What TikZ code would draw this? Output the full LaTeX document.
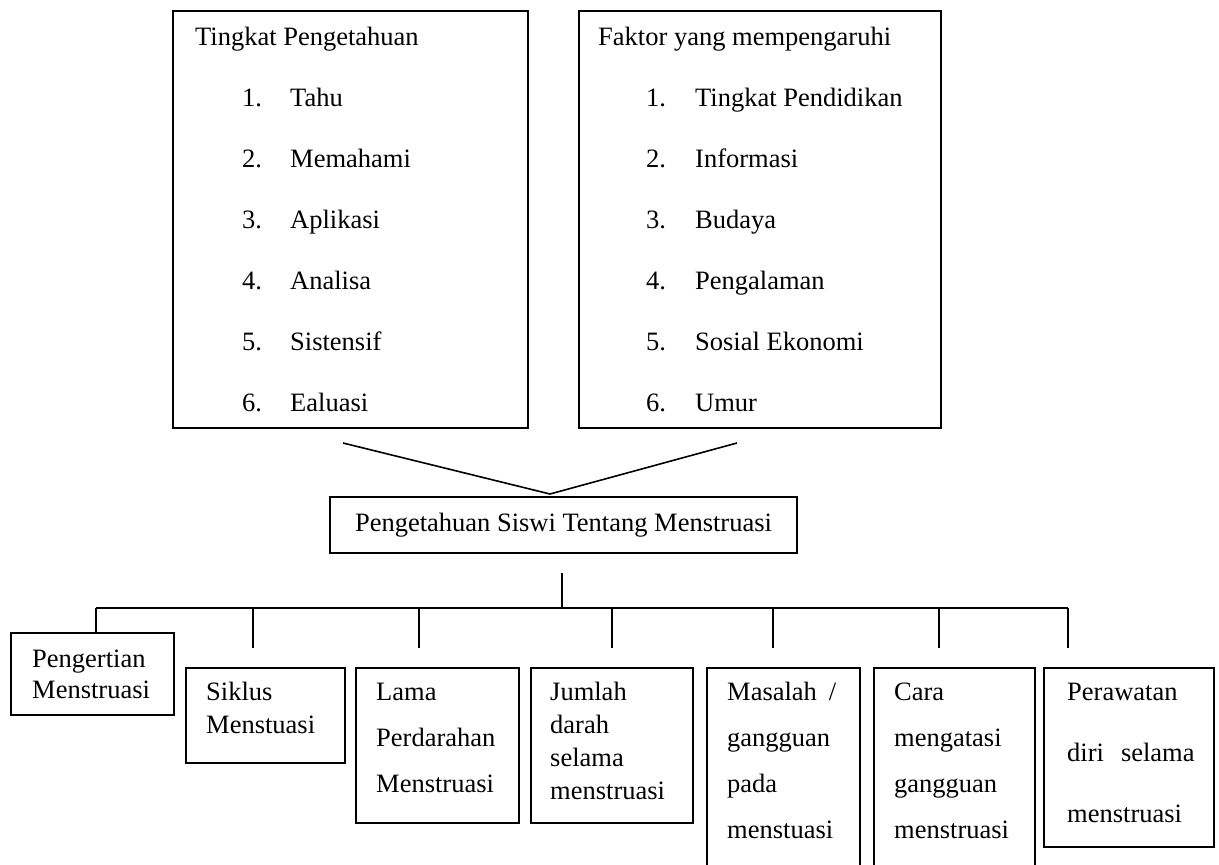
\documentclass[tikz,border=0pt]{standalone}
\usepackage{fontspec}
\setmainfont{Liberation Serif}

\begin{document}
\begin{tikzpicture}[x=1pt,y=-1pt,
    font=\fontsize{26.5}{30}\selectfont,
    boxframe/.style={draw,line width=1.6pt,inner sep=0pt,anchor=north west},
    txt/.style={anchor=base west,inner sep=0pt},
    link/.style={line width=1.6pt}]
    \useasboundingbox (0,0) rectangle (1219,865);

    % Upper boxes
    \node[boxframe,minimum width=355pt,minimum height=417pt] (tingkat) at (172,10) {};
    \node[boxframe,minimum width=362pt,minimum height=417pt] (faktor) at (578,10) {};
    \node[txt] (tingkathead) at (195,45) {Tingkat Pengetahuan};
    \node[txt] (faktorhead) at (598,45) {Faktor yang mempengaruhi};
    \foreach \t [count=\i] in {Tahu,Memahami,Aplikasi,Analisa,Sistensif,Ealuasi}{
      \node[txt] (tnum\i) at (242,45+61*\i) {\i.};
      \node[txt] (titem\i) at (290,45+61*\i) {\t};
    }
    \foreach \t [count=\i] in {Tingkat Pendidikan,Informasi,Budaya,Pengalaman,Sosial Ekonomi,Umur}{
      \node[txt] (fnum\i) at (646,45+61*\i) {\i.};
      \node[txt] (fitem\i) at (695,45+61*\i) {\t};
    }

    % Middle box and the V above it
    \node[draw,line width=1.6pt,minimum width=467pt,minimum height=56pt,inner sep=0pt]
      (siswi) at (563.5,525) {Pengetahuan Siswi Tentang Menstruasi};
    \coordinate (vl) at (343,443);
    \coordinate (vr) at (737,443);
    \coordinate (apex) at (550,494);
    \draw[link] (vl) -- (apex) -- (vr);

    % Lower boxes
    \node[boxframe,minimum width=163pt,minimum height=82pt] (pengertian) at (10,632) {};
    \node[boxframe,minimum width=159pt,minimum height=95pt] (siklus) at (185,667) {};
    \node[boxframe,minimum width=163pt,minimum height=155pt] (lama) at (355,667) {};
    \node[boxframe,minimum width=162pt,minimum height=155pt] (jumlah) at (530,667) {};
    \node[boxframe,minimum width=153pt,minimum height=250pt] (masalah) at (706,667) {};
    \node[boxframe,minimum width=161pt,minimum height=250pt] (cara) at (873,667) {};
    \node[boxframe,minimum width=170pt,minimum height=179pt] (perawatan) at (1043,667) {};

    \foreach \l [count=\k] in {Pengertian,Menstruasi}
      \node[txt] (pengertian\k) at (32,636+31*\k) {\l};
    \foreach \l [count=\k] in {Siklus,Menstuasi}
      \node[txt] (siklus\k) at (206,667+33*\k) {\l};
    \foreach \l [count=\k] in {Lama,Perdarahan,Menstruasi}
      \node[txt] (lama\k) at (376,654+46*\k) {\l};
    \foreach \l [count=\k] in {Jumlah,darah,selama,menstruasi}
      \node[txt] (jumlah\k) at (550,667+33*\k) {\l};
    \foreach \l [count=\k] in {{Masalah\hspace{12pt}/},gangguan,pada,menstuasi}
      \node[txt] (masalah\k) at (727,654+46*\k) {\l};
    \foreach \l [count=\k] in {Cara,mengatasi,gangguan,menstruasi}
      \node[txt] (cara\k) at (894,654+46*\k) {\l};
    \foreach \l [count=\k] in {Perawatan,{diri\hspace{17pt}selama},menstruasi}
      \node[txt] (perawatan\k) at (1067,639+61*\k) {\l};

    % Branch lines
    \coordinate (stem) at (562,573);
    \coordinate (bus) at (562,608);
    \coordinate (tpengertian) at (96,632);
    \foreach \n/\x in {siklus/253,lama/419,jumlah/612,masalah/773,cara/939,perawatan/1068}
      \coordinate (t\n) at (\x,648);
    \draw[link] (stem) -- (bus);
    \draw[link] (tpengertian |- bus) -- (tperawatan |- bus);
    \foreach \n in {pengertian,siklus,lama,jumlah,masalah,cara,perawatan}
      \draw[link] (t\n |- bus) -- (t\n);

\end{tikzpicture}
\end{document}
